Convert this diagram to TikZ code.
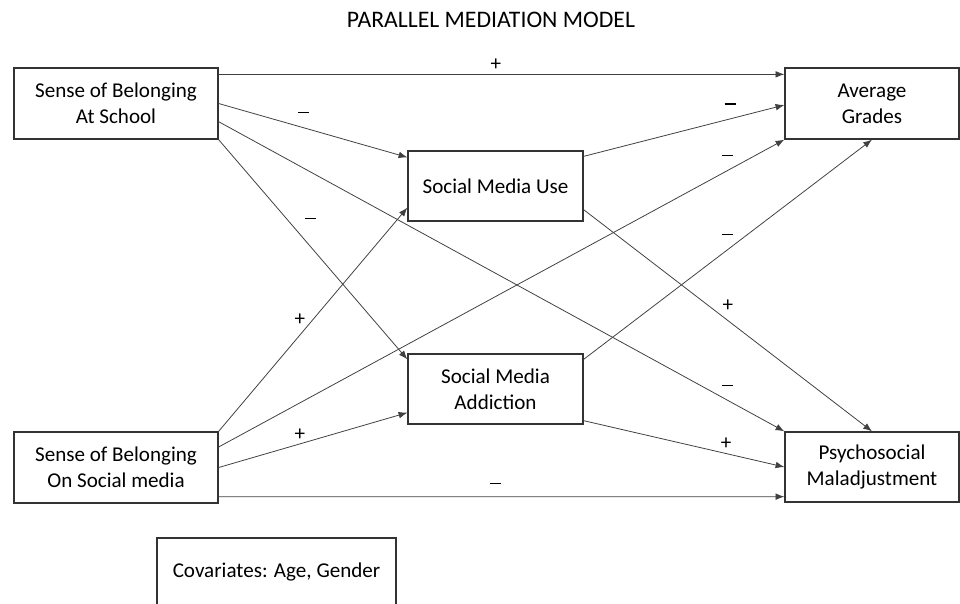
\documentclass[tikz,border=0pt]{standalone}
\usepackage{fontspec}
\setmainfont{Carlito}
\usetikzlibrary{arrows.meta}
\usetikzlibrary{calc}

\newcommand{\negsign}{\rule[0.24em]{6.2pt}{0.9pt}}

\begin{document}
\begin{tikzpicture}[x=0.02cm,y=-0.02cm,
    box/.style={draw=black!80,line width=0.75pt,rectangle,align=center,inner sep=0pt,
      font=\fontsize{12}{14.7}\selectfont},
    link/.style={draw=black!75,line width=0.45pt,-{Latex[length=5pt,width=3.8pt]}},
    sign/.style={font=\fontsize{12}{14}\selectfont,inner sep=1pt}]

  \useasboundingbox (0,0) rectangle (960,603);

  \node [font=\fontsize{13.5}{16}\selectfont] (title) at (491,20) {PARALLEL MEDIATION MODEL};

  \node [box,minimum width=4.08cm,minimum height=1.42cm] (sbs) at (116,103.5) {Sense of Belonging\\At School};
  \node [box,minimum width=4.08cm,minimum height=1.42cm] (sbsm) at (116,467.5) {Sense of Belonging\\On Social media};
  \node [box,minimum width=3.5cm,minimum height=1.4cm] (smu) at (495.5,186) {Social Media Use};
  \node [box,minimum width=3.5cm,minimum height=1.4cm] (sma) at (495.5,389) {Social Media\\Addiction};
  \node [box,minimum width=3.48cm,minimum height=1.42cm] (ag) at (872,103.5) {Average\\Grades};
  \node [box,minimum width=3.48cm,minimum height=1.4cm] (pm) at (872,467) {Psychosocial\\Maladjustment};
  \node [box,minimum width=4.78cm,minimum height=1.36cm] (cov) at (276.5,572) {Covariates: Age, Gender};

  \path [every edge/.style=link]
    ($(sbs.north east)+(0,7)$) edge node [sign,pos=.49,above=1pt] {+} ($(ag.north west)+(0,7)$)
    (sbs.east) edge node [sign,pos=.45,above=4pt] {\negsign} ($(smu.north west)+(0,7)$)
    ($(sbs.south east)+(0,-18)$) edge node [sign,pos=.9,above=4pt] {\negsign} (pm.north west)
    (sbs.south east) edge node [sign,pos=.42,above right=3pt] {\negsign} ($(sma.north west)+(0,6)$);

  \path [every edge/.style=link]
    ($(smu.north east)+(0,6)$) edge node [sign,pos=.73,above=4pt] {\negsign} ($(ag.west)+(0,1.5)$)
    ($(smu.south east)+(0,-12)$) edge node [sign,pos=.5,above=4pt] {+} (pm.north);

  \path [every edge/.style=link]
    (sbsm.north east) edge node [sign,pos=.43,above=4pt] {+} ($(smu.south west)+(0,-14)$)
    ($(sbsm.east)+(0,-20.5)$) edge node [sign,pos=.9,above=4pt] {\negsign} (ag.south west)
    (sbsm.east) edge node [sign,pos=.43,above=1pt] {+} ($(sma.south west)+(0,-12)$)
    ($(sbsm.south east)+(0,-7)$) edge node [sign,pos=.49,above=3pt] {\negsign} ($(pm.south west)+(0,-6)$);

  \path [every edge/.style=link]
    ($(sma.north east)+(0,6)$) edge node [sign,pos=.5,above=4pt] {\negsign} (ag.south)
    ($(sma.south east)+(0,-4)$) edge node [sign,pos=.71,above=1pt] {+} (pm.west);

\end{tikzpicture}
\end{document}
